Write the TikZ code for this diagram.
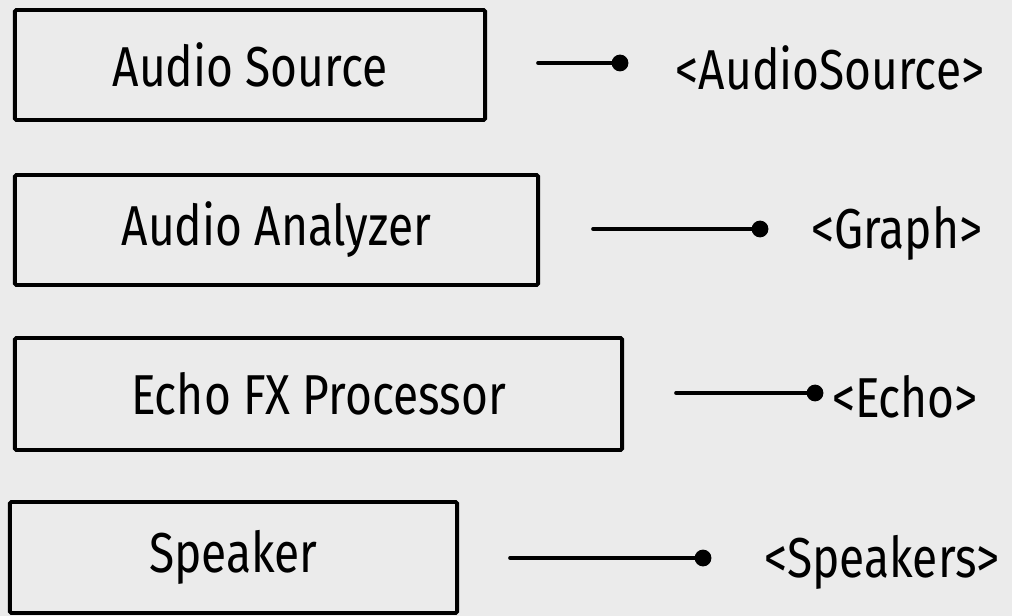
\documentclass[tikz,border=0pt]{standalone}
\usepackage{fontspec}
\usetikzlibrary{positioning}
\newfontfamily\handfont[FakeStretch=0.82]{Fira Sans}
\definecolor{paper}{HTML}{EBEBEB}

\begin{document}
\begin{tikzpicture}[
		x=0.025cm, y=-0.025cm,
		% boxes of the chain, wires and the tags they lead to
		stage/.style={draw=black, line width=2.8pt, rounded corners=1pt, inner sep=0pt,
			font=\handfont\fontsize{40}{44}\selectfont},
		wire/.style={line width=2.6pt, line cap=round},
		dot/.style={circle, fill=black, inner sep=0pt, minimum size=0.42cm},
		tag/.style={inner sep=0pt, font=\handfont\fontsize{40}{44}\selectfont}
		]
		\fill[paper] (0,0) rectangle (1012,616);
		\useasboundingbox (0,0) rectangle (1012,616);
		% the four stages
		\node[stage, minimum width=11.75cm, minimum height=2.75cm] (source) at (250,65) {Audio Source};
		\node[stage, minimum width=13.075cm, minimum height=2.75cm] (analyzer) at (276.5,230) {Audio Analyzer};
		\node[stage, minimum width=15.175cm, minimum height=2.8cm] (echo) at (318.5,394) {Echo FX Processor};
		\node[stage, minimum width=11.175cm, minimum height=2.775cm] (speaker) at (233.5,557.5) {Speaker};
		% lollipops
		\coordinate (SourceWire) at (538,63);
		\coordinate (AnalyzerWire) at (593,229);
		\coordinate (EchoWire) at (676,393);
		\coordinate (SpeakerWire) at (510,558);
		\node[dot] (SourceDot) at (620,63) {};
		\node[dot] (AnalyzerDot) at (760,229) {};
		\node[dot] (EchoDot) at (815,393) {};
		\node[dot] (SpeakerDot) at (703,558) {};
		\draw[wire] (SourceWire) -- (SourceDot);
		\draw[wire] (AnalyzerWire) -- (AnalyzerDot);
		\draw[wire] (EchoWire) -- (EchoDot);
		\draw[wire] (SpeakerWire) -- (SpeakerDot);
		% tags
		\node[tag] (SourceTag) at (830,68) {<AudioSource>};
		\node[tag] (AnalyzerTag) at (897,233) {<Graph>};
		\node[tag] (EchoTag) at (905,397) {<Echo>};
		\node[tag] (SpeakerTag) at (882,562) {<Speakers>};
\end{tikzpicture}
\end{document}
